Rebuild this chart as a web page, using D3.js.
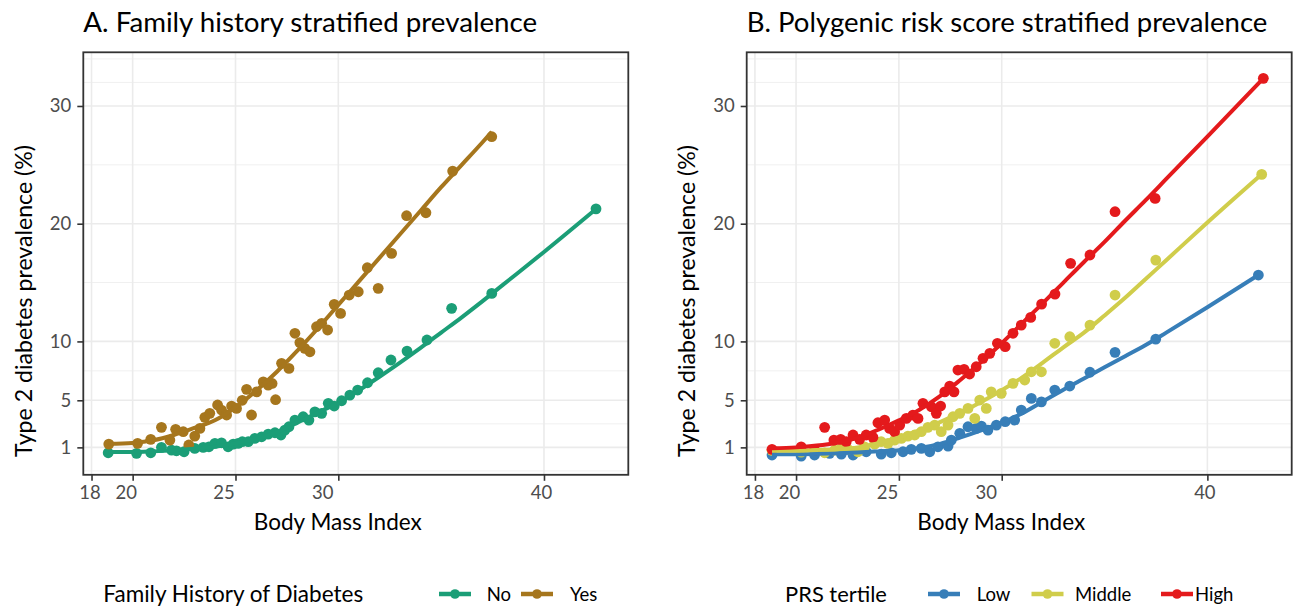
<!DOCTYPE html>
<html>
<head>
<meta charset="utf-8">
<script src="https://cdn.jsdelivr.net/npm/d3@7"></script>
<style>
body{margin:0;background:#fff;}
svg{font-family:Lato,"Open Sans",sans-serif;}
</style>
</head>
<body>
<svg id="chart" width="1295" height="609"></svg>
<script>
var xTicks=[18,20,25,30,40];
var yTicks=[1,5,10,20,30];
var yMinor=[-1,3,7.5,15,25,32,34];

// panel A: family history
var famLabels=["No","Yes"];
var famColors=["#1b9e77","#a6761d"];
var famNoPts=[[18.81,0.54],[20.19,0.49],[20.88,0.54],[21.40,1.00],[21.89,0.77],[22.13,0.71],[22.50,0.63],[23.02,0.91],[23.43,1.00],[23.71,1.05],[24.00,1.34],[24.32,1.39],[24.64,1.05],[24.89,1.28],[25.13,1.34],[25.33,1.48],[25.62,1.48],[25.94,1.76],[26.27,1.90],[26.59,2.13],[26.92,2.24],[27.21,2.05],[27.40,2.47],[27.60,2.75],[27.89,3.32],[28.29,3.60],[28.57,3.32],[28.86,4.02],[29.19,3.89],[29.51,4.74],[29.80,4.51],[30.16,4.96],[30.56,5.44],[30.94,5.87],[31.42,6.49],[31.94,7.34],[32.56,8.42],[33.34,9.18],[34.31,10.12],[35.51,12.81],[37.46,14.08],[42.53,21.26]];
var famYesPts=[[18.84,1.28],[20.24,1.34],[20.88,1.68],[21.40,2.70],[21.81,1.62],[22.09,2.53],[22.46,2.33],[22.73,1.20],[23.02,1.96],[23.27,2.61],[23.51,3.55],[23.75,3.89],[24.13,4.60],[24.32,4.17],[24.57,3.75],[24.81,4.51],[25.05,4.31],[25.33,5.00],[25.54,5.93],[25.78,3.75],[26.03,5.72],[26.35,6.57],[26.59,6.29],[26.78,6.43],[26.95,5.05],[27.24,8.14],[27.60,7.71],[27.89,10.69],[28.13,9.90],[28.37,9.41],[28.62,9.12],[28.94,11.25],[29.19,11.54],[29.48,10.97],[29.80,13.15],[30.11,12.38],[30.53,13.94],[30.97,14.22],[31.41,16.26],[31.94,14.51],[32.59,17.48],[33.32,20.68],[34.26,20.93],[35.56,24.47],[37.46,27.39]];
var famNoFit=[[18.81,0.6],[20,0.6],[21,0.66],[22,0.75],[23,0.88],[24,1.05],[25,1.35],[26,1.75],[27,2.3],[28,3.1],[29,3.95],[30,4.8],[31,5.85],[32,7.0],[33,8.2],[34,9.45],[35,10.75],[36,12.05],[37,13.4],[38,14.8],[40,17.6],[42.53,21.25]];
var famYesFit=[[18.84,1.3],[20,1.38],[21,1.6],[22,2.05],[23,2.65],[24,3.3],[25,4.4],[26,5.8],[27,7.4],[28,9.2],[29,11.1],[30,13.1],[31,15.1],[32,17.1],[33,19.1],[34,21.1],[35,23.1],[36,25.0],[37,26.9],[37.46,27.8]];

// panel B: PRS tertile
var prsLabels=["Low","Middle","High"];
var prsColors=["#377eb8","#d0cd4b","#e41a1c"];
var prsLowPts=[[18.83,0.35],[20.25,0.26],[20.90,0.35],[21.63,0.49],[22.20,0.43],[22.77,0.35],[23.41,0.63],[24.14,0.43],[24.63,0.54],[25.20,0.63],[25.60,0.83],[26.09,0.91],[26.50,0.63],[26.90,1.05],[27.39,1.11],[27.55,1.62],[27.96,2.19],[28.36,2.75],[28.76,2.61],[29.01,2.81],[29.33,2.47],[29.74,2.89],[30.17,3.18],[30.63,3.32],[30.95,4.17],[31.44,5.16],[31.93,4.87],[32.58,5.87],[33.31,6.21],[34.29,7.38],[35.51,9.07],[37.49,10.20],[42.48,15.64]];
var prsMidPts=[[18.83,0.75],[20.25,0.60],[21.39,0.54],[21.88,0.77],[22.20,0.91],[22.52,0.83],[23.01,0.63],[23.33,1.05],[23.82,1.28],[24.14,1.48],[24.47,1.34],[24.79,1.62],[25.12,1.76],[25.44,1.96],[25.77,2.05],[26.09,2.33],[26.41,2.70],[26.74,2.89],[27.06,2.33],[27.39,2.89],[27.63,3.60],[27.96,3.89],[28.36,4.31],[28.69,3.46],[28.93,5.02],[29.25,4.31],[29.49,5.72],[29.98,5.59],[30.55,6.44],[31.12,6.72],[31.44,7.42],[31.93,7.42],[32.58,9.84],[33.31,10.40],[34.29,11.39],[35.51,13.94],[37.49,16.91],[42.64,24.19]];
var prsHighPts=[[18.83,0.83],[20.25,1.05],[20.90,0.77],[21.39,2.70],[21.84,1.62],[22.17,1.68],[22.44,1.48],[22.77,2.05],[23.09,1.68],[23.41,2.05],[23.74,1.85],[23.98,3.09],[24.31,3.32],[24.55,2.61],[24.79,2.33],[25.04,2.89],[25.36,3.46],[25.68,3.74],[25.93,3.46],[26.17,4.74],[26.58,4.45],[26.82,3.89],[27.03,4.51],[27.23,5.72],[27.47,6.21],[27.68,5.72],[27.87,7.57],[28.17,7.63],[28.44,7.23],[28.76,7.85],[29.09,8.56],[29.42,8.99],[29.79,9.84],[30.17,9.55],[30.55,10.69],[30.95,11.39],[31.41,12.04],[31.94,13.17],[32.59,14.02],[33.35,16.63],[34.29,17.34],[35.51,21.02],[37.46,22.15],[42.72,32.35]];
var prsLowFit=[[18.83,0.42],[20,0.42],[21,0.45],[22,0.5],[23,0.57],[24,0.66],[25,0.75],[26,0.95],[27,1.3],[28,1.85],[29,2.45],[30,3.1],[31,3.9],[32,4.9],[33,5.9],[34,6.85],[35,7.8],[36,8.75],[37,9.7],[38,10.75],[40,12.9],[42.48,15.64]];
var prsMidFit=[[18.83,0.72],[20,0.72],[21,0.78],[22,0.85],[23,1.0],[24,1.35],[25,1.85],[26,2.45],[27,3.15],[28,3.95],[29,4.85],[30,5.85],[31,6.95],[32,8.2],[33,9.5],[34,10.75],[35,12.2],[36,13.7],[37,15.3],[38,16.9],[40,20.1],[42.64,24.2]];
var prsHighFit=[[18.83,0.92],[20,1.0],[21,1.15],[22,1.4],[23,1.8],[24,2.5],[25,3.3],[26,4.2],[27,5.35],[28,6.75],[29,8.25],[30,9.85],[31,11.55],[32,13.25],[33,15.0],[34,16.75],[35,18.45],[36,20.25],[37,22.0],[38,23.8],[40,27.4],[42.72,32.35]];

var svg=d3.select("#chart");
var panelW=545, panelH=422.5, panelTop=52.3;

var x=d3.scaleLinear().domain([17.6,44.1]).range([0,panelW]);
var y=d3.scaleLinear().domain([-1.33,34.56]).range([panelH,0]);

// tick labels in the original sit a little left of their ticks
var xLabelNudge=[-2,-7,-12,-16,-3];

function fitWidth(sel,w){
	var cur=sel.node().getComputedTextLength();
	var fs=parseFloat(sel.style("font-size"));
	sel.style("font-size",(fs*w/cur)+"px");
}

function drawPanel(left,title,titleW,series,legend){
	var g=svg.append("g").attr("transform","translate("+left+","+panelTop+")");

	g.append("rect").attr("width",panelW).attr("height",panelH).attr("fill","#fff");

	g.selectAll(".yminor").data(yMinor).enter().append("line")
		.attr("x1",0).attr("x2",panelW)
		.attr("y1",d=>y(d)).attr("y2",d=>y(d))
		.attr("stroke","#f0f0f0").attr("stroke-width",1);
	g.selectAll(".ymajor").data(yTicks).enter().append("line")
		.attr("x1",0).attr("x2",panelW)
		.attr("y1",d=>y(d)).attr("y2",d=>y(d))
		.attr("stroke","#ebebeb").attr("stroke-width",1.6);
	g.selectAll(".xmajor").data(xTicks).enter().append("line")
		.attr("y1",0).attr("y2",panelH)
		.attr("x1",d=>x(d)).attr("x2",d=>x(d))
		.attr("stroke","#ebebeb").attr("stroke-width",1.6);

	var line=d3.line().x(d=>x(d[0])).y(d=>y(d[1])).curve(d3.curveMonotoneX);

	series.forEach(function(s){
		g.append("g").selectAll("circle").data(s.pts).enter().append("circle")
			.attr("cx",d=>x(d[0])).attr("cy",d=>y(d[1]))
			.attr("r",5.4).attr("fill",s.color);
	});
	series.forEach(function(s){
		g.append("path").datum(s.fit).attr("d",line)
			.attr("fill","none").attr("stroke",s.color)
			.attr("stroke-width",4).attr("stroke-linecap","butt");
	});

	g.append("rect").attr("width",panelW).attr("height",panelH)
		.attr("fill","none").attr("stroke","#333").attr("stroke-width",1.8);

	var ax=g.append("g").attr("transform","translate(0,"+panelH+")")
		.call(d3.axisBottom(x).tickValues(xTicks).tickSize(6).tickPadding(5.5).tickFormat(d3.format("d")));
	var ay=g.append("g")
		.call(d3.axisLeft(y).tickValues(yTicks).tickSize(6).tickPadding(6).tickFormat(d3.format("d")));
	[ax,ay].forEach(function(a){
		a.select(".domain").remove();
		a.selectAll(".tick line").attr("stroke","#333").attr("stroke-width",1.6);
		a.selectAll(".tick text").attr("fill","#4d4d4d").style("font-size","18.5px").style("font-family","Lato,'Open Sans',sans-serif");
	});
	ax.selectAll(".tick text").attr("dx",(d,i)=>xLabelNudge[i]);

	var t=svg.append("text").attr("x",left).attr("y",31.7)
		.attr("fill","#000").style("font-size","26px").text(title);
	fitWidth(t,titleW);

	var xt=svg.append("text").attr("x",left+panelW/2-18).attr("y",530)
		.attr("text-anchor","middle").attr("fill","#000").style("font-size","21px")
		.text("Body Mass Index");
	fitWidth(xt,168);

	var yt=svg.append("text")
		.attr("transform","translate("+(left-51.5)+",301) rotate(-90)")
		.attr("text-anchor","middle").attr("fill","#000").style("font-size","21px")
		.text("Type 2 diabetes prevalence (%)");
	fitWidth(yt,312);

	var lt=svg.append("text").attr("x",legend.titleX).attr("y",601.7)
		.attr("fill","#000").style("font-size","21px").text(legend.title);
	fitWidth(lt,legend.titleW);

	series.forEach(function(s,i){
		var cx=legend.keyX[i];
		svg.append("line").attr("x1",cx-16).attr("x2",cx+16)
			.attr("y1",594).attr("y2",594)
			.attr("stroke",s.color).attr("stroke-width",4.5);
		svg.append("circle").attr("cx",cx).attr("cy",594).attr("r",4.8).attr("fill",s.color);
		svg.append("text").attr("x",legend.labelX[i]).attr("y",600.5)
			.attr("fill","#000").style("font-size","18.5px").text(s.label);
	});
}

var famSeries=[
	{label:famLabels[0],color:famColors[0],pts:famNoPts,fit:famNoFit},
	{label:famLabels[1],color:famColors[1],pts:famYesPts,fit:famYesFit}
];
var prsSeries=[
	{label:prsLabels[0],color:prsColors[0],pts:prsLowPts,fit:prsLowFit},
	{label:prsLabels[1],color:prsColors[1],pts:prsMidPts,fit:prsMidFit},
	{label:prsLabels[2],color:prsColors[2],pts:prsHighPts,fit:prsHighFit}
];

drawPanel(83.3,"A. Family history stratified prevalence",454,famSeries,
	{title:"Family History of Diabetes",titleX:103.3,titleW:260,keyX:[455,537],labelX:[486.7,570]});
drawPanel(746.7,"B. Polygenic risk score stratified prevalence",521,prsSeries,
	{title:"PRS tertile",titleX:785,titleW:102,keyX:[944,1047.5,1177],labelX:[976.7,1075,1195]});
</script>
</body>
</html>
